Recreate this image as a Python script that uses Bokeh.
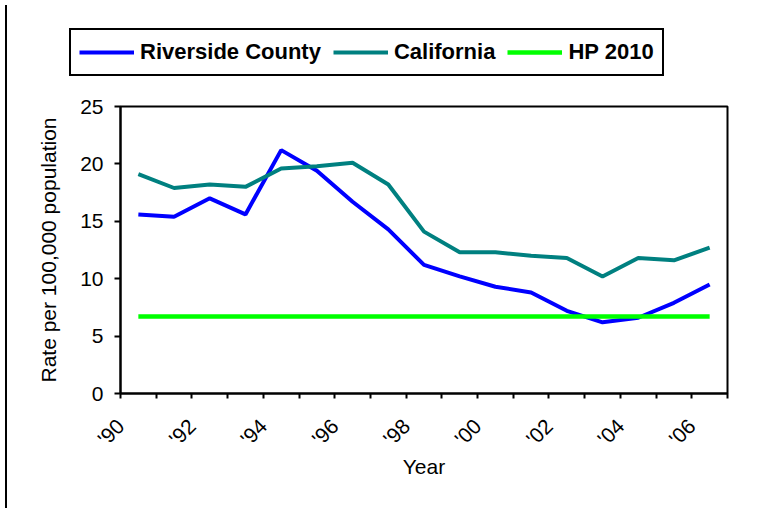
import math
from bokeh.plotting import figure
from bokeh.models import Legend, LegendItem, FixedTicker, Range1d, Div
from bokeh.layouts import row, column
from bokeh.embed import file_html
from bokeh.resources import INLINE

# ---- data ----
years = [1990, 1991, 1992, 1993, 1994, 1995, 1996, 1997, 1998,
         1999, 2000, 2001, 2002, 2003, 2004, 2005, 2006]
riverside = [15.6, 15.4, 17.0, 15.6, 21.2, 19.4, 16.7, 14.3, 11.2,
             10.2, 9.3, 8.8, 7.2, 6.2, 6.6, 7.9, 9.5]
california = [19.1, 17.9, 18.2, 18.0, 19.6, 19.8, 20.1, 18.2, 14.1,
              12.3, 12.3, 12.0, 11.8, 10.2, 11.8, 11.6, 12.7]
hp2010 = [6.7, 6.7, 6.7, 6.7, 6.7, 6.7, 6.7, 6.7, 6.7,
          6.7, 6.7, 6.7, 6.7, 6.7, 6.7, 6.7, 6.7]
series_names = ["Riverside County", "California", "HP 2010"]
series_colors = ["#0000FF", "#008080", "#00FF00"]
label_years = [1990, 1992, 1994, 1996, 1998, 2000, 2002, 2004, 2006]
tick_labels = ["'90", "'92", "'94", "'96", "'98", "'00", "'02", "'04", "'06"]
y_ticks = [0, 5, 10, 15, 20, 25]

FONT = "Liberation Sans"
LW = [4, 4, 4.5]

# ---- main chart ----
p = figure(width=736, height=413, output_backend="svg", toolbar_location=None,
           x_range=Range1d(years[0] - 0.5, years[-1] + 0.5), y_range=Range1d(0, 25),
           min_border_left=108, min_border_right=21, min_border_top=26, min_border_bottom=100)
p.frame_align = False
p.background_fill_color = "white"
p.border_fill_color = "white"
p.outline_line_color = "black"
p.outline_line_width = 2
p.outline_line_alpha = 1.0
p.xgrid.visible = False
p.ygrid.visible = False

for vals, c, lw in zip([riverside, california, hp2010], series_colors, LW):
    p.line(years, vals, line_color=c, line_width=lw)

bounds = [y - 0.5 for y in years] + [years[-1] + 0.5]
label_pos = [y - 0.5 for y in label_years]
xa = p.xaxis[0]
xa.ticker = FixedTicker(ticks=label_pos, minor_ticks=bounds)
xa.major_label_overrides = {x: t for x, t in zip(label_pos, tick_labels)}
xa.major_tick_out = 0
xa.major_tick_in = 0
xa.minor_tick_out = 5
xa.minor_tick_in = 0
xa.minor_tick_line_color = "black"
xa.minor_tick_line_width = 2
xa.major_label_orientation = math.pi / 4
xa.major_label_standoff = 24
xa.axis_label = "Year"
xa.axis_label_standoff = -6

ya = p.yaxis[0]
ya.ticker = FixedTicker(ticks=y_ticks, minor_ticks=[])
ya.major_tick_out = 6
ya.major_tick_in = 0
ya.major_tick_line_width = 2
ya.major_label_standoff = 11
ya.axis_label = "Rate per 100,000 population"
ya.axis_label_standoff = 17

for ax in (xa, ya):
    ax.axis_line_color = "black"
    ax.axis_line_width = 2
    ax.major_tick_line_color = "black"
    ax.major_label_text_font = FONT
    ax.major_label_text_font_size = "21px"
    ax.major_label_text_color = "black"
    ax.axis_label_text_font = FONT
    ax.axis_label_text_font_size = "21px"
    ax.axis_label_text_font_style = "normal"
    ax.axis_label_text_color = "black"

# ---- legend strip above the chart ----
lf = figure(width=736, height=80, output_backend="svg", toolbar_location=None,
            x_axis_type=None, y_axis_type=None, min_border=0,
            x_range=Range1d(0, 1), y_range=Range1d(0, 1))
lf.frame_align = False
lf.outline_line_color = None
lf.background_fill_color = "white"
lf.border_fill_color = "white"
lf.xgrid.visible = False
lf.ygrid.visible = False
items = []
for name, c, lw in zip(series_names, series_colors, LW):
    # legend-only swatch renderer, kept outside the visible range
    r = lf.line([0, 1], [-5, -5], line_color=c, line_width=lw)
    items.append(LegendItem(label=name, renderers=[r]))

legend = Legend(items=items, orientation="horizontal", location=(57, 4),
                glyph_width=55, glyph_height=28, label_height=28,
                label_standoff=6, spacing=12, padding=8, margin=0,
                label_text_font=FONT, label_text_font_size="22px",
                label_text_font_style="bold", label_text_color="black",
                border_line_color="black", border_line_width=2,
                border_line_alpha=1.0,
                background_fill_color="white", background_fill_alpha=1.0)
lf.add_layout(legend, "center")

edge = Div(width=2, height=503, styles={"background-color": "black"})
layout = row(edge, column(lf, p, spacing=0), spacing=0)

open("out.html", "w").write(file_html(layout, INLINE))
